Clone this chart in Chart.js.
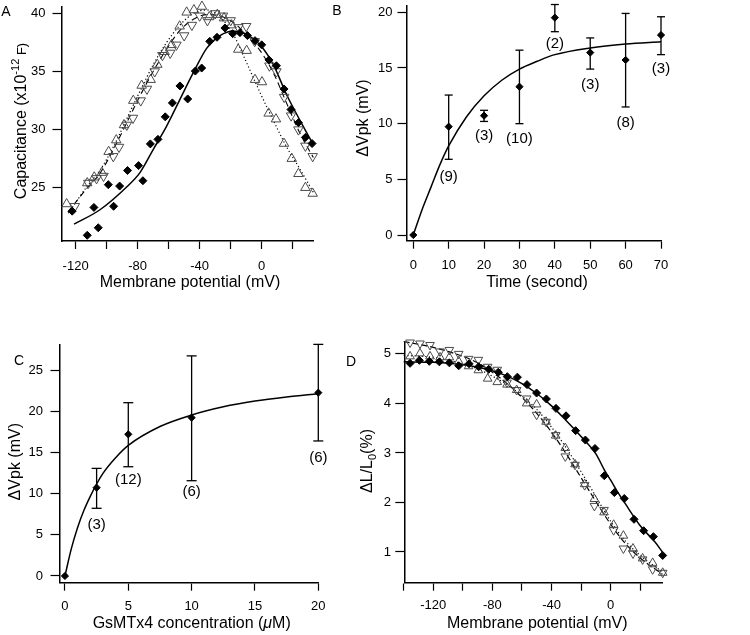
<!DOCTYPE html>
<html>
<head>
<meta charset="utf-8">
<title>Capacitance and charge movement</title>
<script src="https://cdn.jsdelivr.net/npm/chart.js@4.4.0/dist/chart.umd.min.js"></script>
<style>
    html, body { margin: 0; padding: 0; background: #fff; }
    #fig { position: relative; width: 750px; height: 635px; }
    #fig canvas { position: absolute; left: 0; top: 0; }
</style>
</head>
<body>
<div id="fig">
    <canvas id="panelA" width="750" height="635"></canvas>
    <canvas id="panelB" width="750" height="635"></canvas>
    <canvas id="panelC" width="750" height="635"></canvas>
    <canvas id="panelD" width="750" height="635"></canvas>
</div>
<script>
// --- Panel A: capacitance vs membrane potential ---
const aDiamondMv = [-122.2, -112.5, -108.2, -105.4, -98.9, -95.5, -91.6, -86.5, -79.4, -76.6, -71.8, -66.9, -62.2, -57.6, -52.7, -47.7, -42.8, -38.7, -33.5, -28.8, -23.7, -18.7, -14.0, -9.2, -4.3, 0, 4.7, 9.5, 14.4, 18.9, 23.7, 28.2, 32.5];
const aDiamondC = [22.98, 20.9, 23.3, 21.55, 25.26, 23.4, 25.14, 26.48, 26.9, 25.6, 28.77, 29.16, 31.1, 32.3, 33.76, 32.64, 35.04, 35.3, 37.6, 37.95, 38.75, 38.26, 38.35, 38.1, 37.66, 37.3, 36.0, 35.5, 33.5, 31.73, 30.6, 29.33, 28.8];
const aUpMv = [-125.8, -112.5, -108, -103, -98.7, -93.8, -88.8, -82.8, -77.4, -71.6, -67.3, -62.6, -58.1, -52.9, -48.4, -43.7, -38.5, -33.8, -28.6, -24.3, -19.4, -15.1, -9.7, -4.3, 0.2, 4.5, 9.2, 14.4, 19.4, 23.7, 28.2, 32.9];
const aUpC = [23.6, 25.4, 25.9, 26.3, 28.1, 29.1, 30.4, 32.5, 33.8, 34.3, 35.6, 36.7, 37.3, 38.9, 40.1, 40.3, 40.6, 39.7, 39.9, 39.6, 39.0, 36.9, 36.8, 34.3, 34.1, 31.4, 30.9, 28.8, 27.5, 26.2, 25.0, 24.5];
const aDownMv = [-120.5, -111.8, -106.5, -102, -95.7, -92, -87, -83, -78, -74, -69, -64, -59, -55, -50, -45, -40, -35, -30, -25, -20, -15, -10, -4.5, 5, 9.5, 14.5, 19, 23.7, 28.2, 32.9];
const aDownC = [23.4, 25.4, 25.8, 26.0, 27.7, 28.5, 30.4, 31.0, 32.5, 33.5, 35.0, 36.4, 36.6, 37.3, 38.1, 39.0, 39.8, 39.4, 40.0, 39.8, 39.4, 38.8, 38.9, 37.6, 35.5, 35.0, 32.8, 31.2, 30.0, 28.6, 27.7];
const aSolidMv = [-121, -104.3, -87.1, -78.5, -69.9, -61.3, -52.7, -44.1, -35.5, -26.9, -18.3, -9.7, -1.1, 7.5, 16.1, 24.7, 32.5];
const aSolidC = [21.86, 23.1, 25.06, 26.3, 28.3, 30.3, 32.6, 34.9, 37.0, 38.1, 38.5, 38.2, 37.3, 35.6, 33.0, 30.8, 28.9];
const aDotMv = [-124.7, -112.9, -104.3, -95.7, -87.1, -78.5, -69.9, -61.3, -52.7, -44.1, -35.5, -26.9, -18.3, -9.7, -1.1, 7.5, 16.1, 24.7, 33.3];
const aDotC = [22.8, 25.06, 26.5, 28.5, 30.9, 33.3, 35.6, 37.5, 39.0, 40.0, 40.3, 39.7, 38.2, 35.75, 33.2, 30.8, 28.5, 26.6, 24.6];
const aDashMv = [-125, -113, -104, -96, -87, -78.5, -70, -61, -53, -44, -35.5, -27, -18, -10, -1, 7.5, 16, 25, 33.3];
const aDashC = [22.9, 24.9, 26.3, 28.2, 30.6, 32.9, 35.0, 37.0, 38.5, 39.5, 39.9, 39.8, 39.2, 38.2, 36.8, 34.9, 32.3, 29.6, 27.6];
const aTicksX = [-120, -100, -80, -60, -40, -20, 0, 20];
const aLabelsX = [-120, -80, -40, 0];
const aTicksY = [25, 30, 35, 40];

// --- Panel B: shift of Vpk vs time ---
const bTime = [0, 10, 20, 30, 40, 50, 60, 70];
const bVpk = [0, 9.73, 10.72, 13.32, 19.52, 16.38, 15.72, 17.96];
const bErrLow = [null, 6.8, 10.2, 10.0, 18.26, 14.9, 11.5, 16.2];
const bErrHigh = [null, 12.57, 11.2, 16.6, 20.7, 17.7, 19.9, 19.6];
const bCounts = ['', '(9)', '(3)', '(10)', '(2)', '(3)', '(8)', '(3)'];
const bFitT = [0, 2.5, 5, 7.5, 10, 15, 20, 25, 30, 35, 40, 50, 60, 70];
const bFitV = [0, 2.3, 4.3, 6.3, 8.0, 10.6, 12.5, 13.9, 14.9, 15.6, 16.2, 16.8, 17.15, 17.35];
const bTicksX = [0, 10, 20, 30, 40, 50, 60, 70];
const bTicksY = [0, 5, 10, 15, 20];

// --- Panel C: shift of Vpk vs GsMTx4 concentration ---
const cConc = [0, 2.5, 5, 10, 20];
const cVpk = [0, 10.75, 17.25, 19.28, 22.32];
const cErrLow = [null, 8.24, 13.3, 11.6, 16.44];
const cErrHigh = [null, 13.1, 21.1, 26.8, 28.2];
const cCounts = ['', '(3)', '(12)', '(6)', '(6)'];
const cFitX = [0, 0.5, 1, 1.5, 2, 2.5, 3, 4, 5, 7.5, 10, 12.5, 15, 17.5, 20];
const cFitY = [0, 3.3, 5.9, 8.0, 9.7, 11.2, 12.5, 14.4, 15.9, 18.2, 19.6, 20.6, 21.3, 21.8, 22.2];
const cTicksX = [0, 5, 10, 15, 20];
const cTicksY = [0, 5, 10, 15, 20, 25];

// --- Panel D: length change vs membrane potential ---
const dDiamondMv = [-135.7, -129.4, -122.7, -115.9, -109.1, -102.8, -95.8, -89.3, -82.5, -76, -69.9, -63.1, -56.6, -50.1, -43.5, -37, -30.2, -23.7, -17.1, -10.6, -4.3, 2.5, 9.2, 15.8, 22.3, 28.9, 35.2];
const dDiamondL = [4.81, 4.87, 4.85, 4.84, 4.82, 4.76, 4.80, 4.74, 4.69, 4.63, 4.54, 4.53, 4.38, 4.21, 4.09, 3.90, 3.75, 3.45, 3.26, 3.09, 2.54, 2.20, 2.08, 1.66, 1.43, 1.31, 0.93];
const dTriMv = [-135.7, -129, -122.2, -115.4, -109.1, -102.8, -96.1, -89.5, -83.2, -76.7, -70.1, -63.6, -56.8, -50.1, -43.7, -37.2, -30.7, -24.1, -17.6, -11.0, -4.5, 2.0, 8.6, 15.1, 21.6, 28.4, 35.2];
const dUpL = [4.95, 5.01, 4.95, 4.93, 4.93, 4.85, 4.75, 4.67, 4.5, 4.43, 4.38, 4.27, 4.0, 3.98, 3.63, 3.35, 3.1, 2.77, 2.37, 2.07, 1.8, 1.55, 1.33, 1.07, 0.87, 0.78, 0.58];
const dDownL = [5.23, 5.21, 5.18, 5.05, 5.08, 5.0, 4.9, 4.88, 4.74, 4.68, 4.42, 4.27, 4.1, 3.77, 3.63, 3.36, 2.93, 2.76, 2.35, 1.93, 1.85, 1.44, 1.07, 0.97, 0.85, 0.65, 0.58];
const dSolidMv = [-140, -120, -100, -80, -70, -60, -50, -40, -30, -20, -10, -4.3, 0, 5, 10, 20, 30, 35];
const dSolidL = [4.84, 4.83, 4.78, 4.66, 4.55, 4.4, 4.2, 3.95, 3.65, 3.33, 2.98, 2.66, 2.45, 2.2, 1.97, 1.53, 1.2, 1.0];
const dFitMv = [-140, -120, -100, -90, -80, -70, -60, -50, -40, -30, -20, -10, 0, 10, 20, 35];
const dDotL = [4.97, 4.93, 4.8, 4.7, 4.55, 4.38, 4.15, 3.88, 3.52, 3.1, 2.62, 2.12, 1.62, 1.22, 0.93, 0.6];
const dDashL = [5.25, 5.13, 4.95, 4.82, 4.63, 4.4, 4.12, 3.8, 3.42, 2.98, 2.5, 2.02, 1.56, 1.17, 0.88, 0.55];
const dTicksX = [-140, -120, -100, -80, -60, -40, -20, 0, 20];
const dLabelsX = [-120, -80, -40, 0];
const dTicksY = [1, 2, 3, 4, 5];

// --- helpers ---
const SANS = '"Liberation Sans", Arial, Helvetica, sans-serif';
Chart.defaults.font.family = SANS;
Chart.defaults.color = '#000';

const pts = (xs, ys) => xs.map((x, i) => ({ x: x, y: ys[i] }));

// error bars as one broken line: low, high, gap
const errPts = (xs, lo, hi) => {
    const out = [];
    xs.forEach((x, i) => {
        if (lo[i] == null) return;
        out.push({ x: x, y: lo[i] }, { x: x, y: hi[i] }, { x: x, y: null });
    });
    return out;
};

const axis = (pos, min, max, tickVals, labelVals, pad, tickLen) => ({
    type: 'linear',
    position: pos,
    min: min,
    max: max,
    afterBuildTicks: s => { s.ticks = tickVals.map(v => ({ value: v })); },
    afterFit: s => {
        if (pos === 'bottom') { s.height = 40; s.paddingLeft = 0; s.paddingRight = 0; }
        else { s.width = 45; s.paddingTop = 0; s.paddingBottom = 0; }
    },
    ticks: {
        autoSkip: false,
        maxRotation: 0,
        padding: pad,
        color: '#000',
        font: { size: 13 },
        callback: v => labelVals.includes(v) ? String(v) : ''
    },
    grid: { drawOnChartArea: false, drawTicks: true, tickLength: tickLen, color: '#000', tickColor: '#000', tickWidth: 1.2 },
    border: { display: true, color: '#000', width: 1.5 }
});

const diamonds = (data, r) => ({
    data: data, showLine: false, clip: false,
    pointStyle: 'rectRot', pointRadius: r, pointHoverRadius: r,
    pointBackgroundColor: '#000', pointBorderColor: '#000', pointBorderWidth: 1
});

const triangles = (data, down, r) => ({
    data: data, showLine: false, clip: false,
    pointStyle: 'triangle', pointRotation: down ? 180 : 0,
    pointRadius: r, pointHoverRadius: r,
    pointBackgroundColor: 'rgba(255,255,255,0)', pointBorderColor: '#4a4a4a', pointBorderWidth: 1
});

const curve = (data, dash, width) => ({
    data: data, showLine: true, clip: false, pointRadius: 0, pointHoverRadius: 0,
    borderColor: '#000', borderWidth: width, borderDash: dash,
    tension: 0.4, cubicInterpolationMode: 'monotone'
});

const errorBars = (data, cap) => ({
    data: data, showLine: true, spanGaps: false, clip: false,
    borderColor: '#000', borderWidth: 1.3,
    pointStyle: 'line', pointRadius: cap, pointHoverRadius: cap,
    pointBorderColor: '#000', pointBorderWidth: 1.3
});

// text made of runs (for super/subscripts), centred on x, baseline on y
const rich = (ctx, x, y, rot, parts) => {
    const fontOf = p => (p.italic ? 'italic ' : '') + p.size + 'px ' + SANS;
    ctx.save();
    ctx.translate(x, y);
    ctx.rotate(rot);
    ctx.textAlign = 'left';
    ctx.textBaseline = 'alphabetic';
    ctx.fillStyle = '#000';
    let w = 0;
    parts.forEach(p => { ctx.font = fontOf(p); w += ctx.measureText(p.t).width; });
    let cx = -w / 2;
    parts.forEach(p => {
        ctx.font = fontOf(p);
        ctx.fillText(p.t, cx, p.dy || 0);
        cx += ctx.measureText(p.t).width;
    });
    ctx.restore();
};

const letter = (ctx, t, x, y) => {
    ctx.save();
    ctx.font = '14px ' + SANS;
    ctx.fillStyle = '#000';
    ctx.textAlign = 'center';
    ctx.textBaseline = 'middle';
    ctx.fillText(t, x, y);
    ctx.restore();
};

const counts = (chart, xs, lo, labels, dys) => {
    const ctx = chart.ctx, xS = chart.scales.x, yS = chart.scales.y;
    ctx.save();
    ctx.font = '15px ' + SANS;
    ctx.fillStyle = '#000';
    ctx.textAlign = 'center';
    ctx.textBaseline = 'middle';
    labels.forEach((t, i) => {
        if (!t) return;
        ctx.fillText(t, xS.getPixelForValue(xs[i]), yS.getPixelForValue(lo[i]) + dys[i]);
    });
    ctx.restore();
};

const panel = (id, area, scales, datasets, drawText) => new Chart(document.getElementById(id), {
    type: 'scatter',
    data: { datasets: datasets },
    options: {
        responsive: false,
        animation: false,
        devicePixelRatio: 1,
        events: [],
        layout: { padding: { left: area.l - 45, top: area.t, right: 750 - area.r, bottom: 635 - area.b - 40 } },
        scales: scales,
        plugins: { legend: { display: false }, tooltip: { enabled: false } }
    },
    plugins: [{ id: 'text_' + id, afterDraw: chart => drawText(chart, chart.ctx) }]
});

// --- A ---
panel('panelA', { l: 61.5, t: 5, r: 313, b: 241 }, {
    x: axis('bottom', -129.1, 33.1, aTicksX, aLabelsX, 10, 8),
    y: axis('left', 20.41, 40.6, aTicksY, aTicksY, 7, 9)
}, [
    diamonds(pts(aDiamondMv, aDiamondC), 4),
    triangles(pts(aUpMv, aUpC), false, 5.5),
    triangles(pts(aDownMv, aDownC), true, 5.5),
    curve(pts(aSolidMv, aSolidC), [], 1.5),
    curve(pts(aDotMv, aDotC), [1.2, 2.4], 1.2),
    curve(pts(aDashMv, aDashC), [6, 4], 1.1)
], (chart, ctx) => {
    letter(ctx, 'A', 6, 12);
    rich(ctx, 26, 121, -Math.PI / 2, [
        { t: 'Capacitance (x10', size: 16 },
        { t: '-12', size: 11, dy: -7 },
        { t: ' F)', size: 13 }
    ]);
    rich(ctx, 190, 287, 0, [{ t: 'Membrane potential (mV)', size: 16 }]);
});

// --- B ---
panel('panelB', { l: 406.5, t: 5, r: 661, b: 240.7 }, {
    x: axis('bottom', -1.92, 70, bTicksX, bTicksX, 8.5, 8),
    y: axis('left', -0.51, 20.63, bTicksY, bTicksY, 5, 9)
}, [
    diamonds(pts(bTime, bVpk), 3.6),
    errorBars(errPts(bTime, bErrLow, bErrHigh), 4),
    curve(pts(bFitT, bFitV), [], 1.5)
], (chart, ctx) => {
    letter(ctx, 'B', 337, 11);
    rich(ctx, 368, 118, -Math.PI / 2, [{ t: '\u0394Vpk (mV)', size: 16 }]);
    rich(ctx, 537, 287, 0, [{ t: 'Time (second)', size: 16 }]);
    counts(chart, bTime, bErrLow, bCounts, [0, 17.4, 14.5, 15.6, 12.4, 15.6, 15.6, 14.5]);
});

// --- C ---
panel('panelC', { l: 59.5, t: 344.3, r: 318.3, b: 582.7 }, {
    x: axis('bottom', -0.43, 20, cTicksX, cTicksX, 7.5, 8),
    y: axis('left', -0.82, 28.21, cTicksY, cTicksY, 7.5, 9)
}, [
    diamonds(pts(cConc, cVpk), 3.6),
    errorBars(errPts(cConc, cErrLow, cErrHigh), 5),
    curve(pts(cFitX, cFitY), [], 1.5)
], (chart, ctx) => {
    letter(ctx, 'C', 19, 361);
    rich(ctx, 20, 461.7, -Math.PI / 2, [{ t: '\u0394Vpk (mV)', size: 16 }]);
    rich(ctx, 191.7, 628, 0, [
        { t: 'GsMTx4 concentration (', size: 16 },
        { t: '\u03bc', size: 16, italic: true },
        { t: 'M)', size: 16 }
    ]);
    counts(chart, cConc, cErrLow, cCounts, [0, 16.7, 13, 11, 16.7]);
});

// --- D ---
panel('panelD', { l: 404.3, t: 342.5, r: 662.7, b: 582.7 }, {
    x: axis('bottom', -139.6, 35.2, dTicksX, dLabelsX, 6.5, 8),
    y: axis('left', 0.38, 5.23, dTicksY, dTicksY, 4.3, 9)
}, [
    diamonds(pts(dDiamondMv, dDiamondL), 4),
    triangles(pts(dTriMv, dUpL), false, 5),
    triangles(pts(dTriMv, dDownL), true, 5),
    curve(pts(dSolidMv, dSolidL), [], 1.5),
    curve(pts(dFitMv, dDotL), [1.2, 2.4], 1.2),
    curve(pts(dFitMv, dDashL), [6, 3], 1.2)
], (chart, ctx) => {
    letter(ctx, 'D', 351, 361.7);
    rich(ctx, 372, 461, -Math.PI / 2, [
        { t: '\u0394L/L', size: 16 },
        { t: '0', size: 11, dy: 4 },
        { t: '(%)', size: 16 }
    ]);
    rich(ctx, 537.3, 627.7, 0, [{ t: 'Membrane potential (mV)', size: 16 }]);
});
</script>
</body>
</html>
